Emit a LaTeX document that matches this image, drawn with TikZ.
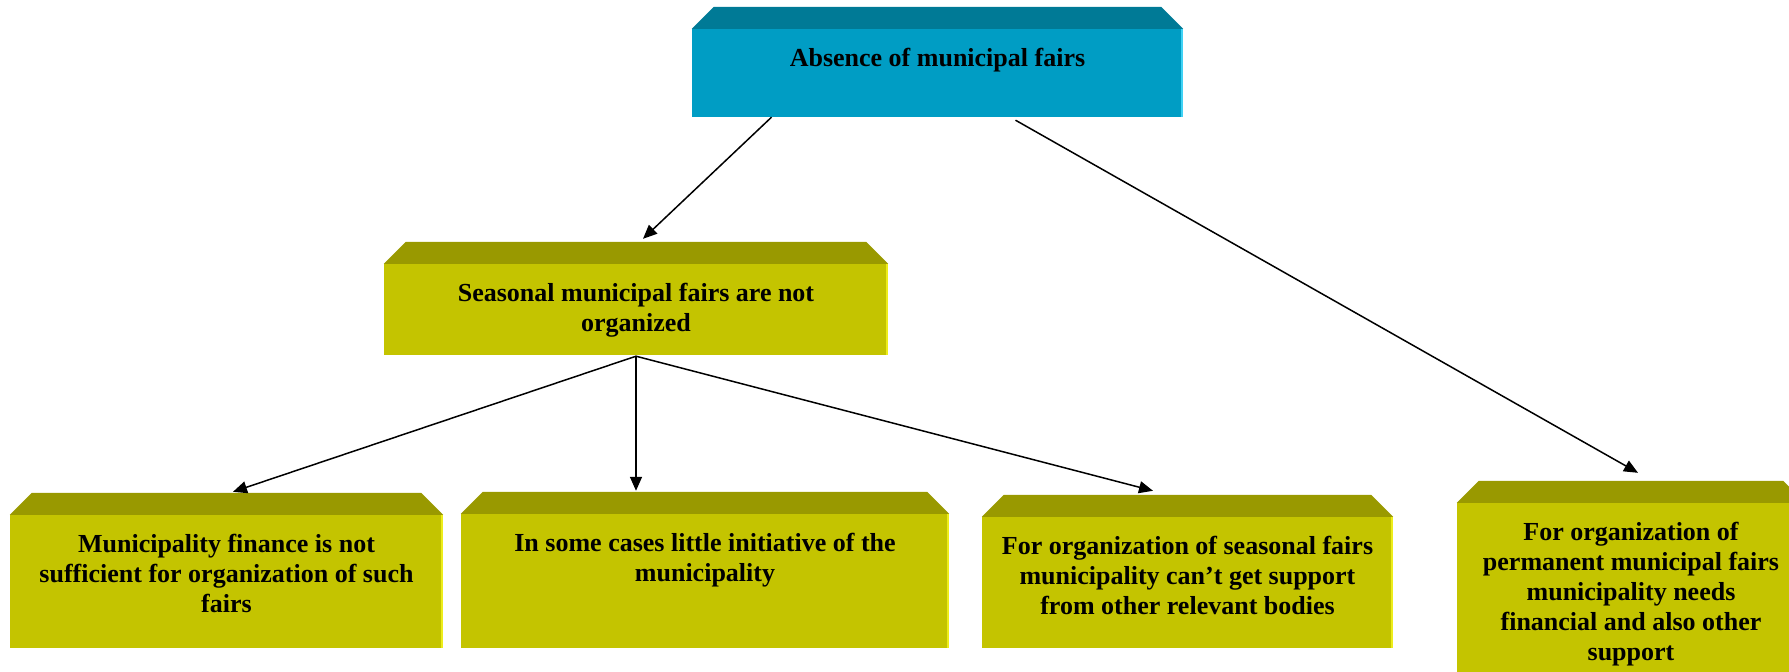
\documentclass[tikz,border=0pt]{standalone}
\usepackage{fontspec}
\setmainfont{Liberation Serif}
\usepackage{tikz}
\usetikzlibrary{arrows.meta}
\definecolor{tealfront}{HTML}{009DC4}
\definecolor{tealtop}{HTML}{007A96}
\definecolor{tealedge}{HTML}{3FD2F5}
\definecolor{olivefront}{HTML}{C4C400}
\definecolor{olivetop}{HTML}{999900}
\definecolor{oliveedge}{HTML}{EDED1A}

\begin{document}
\begin{tikzpicture}[x=1pt,y=-1pt,
		box/.style={rectangle,inner sep=0pt,fill=olivefront},
		boxtext/.style={anchor=north,inner sep=0pt,yshift=-19pt,align=center,font=\bfseries\fontsize{26}{30}\selectfont},
		arr/.style={line width=1.5pt,-{Triangle[length=14pt,width=12pt]}}]
	\useasboundingbox (0,0) rectangle (1789,672);
	% front faces
	\node (top) [box,fill=tealfront,minimum width=491pt,minimum height=88pt] at (937.5,73) {};
	\node (sea) [box,minimum width=504pt,minimum height=91pt] at (636,309.5) {};
	\node (fin) [box,minimum width=433pt,minimum height=133pt] at (226.5,581.5) {};
	\node (ini) [box,minimum width=488pt,minimum height=134pt] at (705,581) {};
	\node (sup) [box,minimum width=411pt,minimum height=131pt] at (1187.5,582.5) {};
	\node (perm) [box,minimum width=348pt,minimum height=207pt] at (1631,606.5) {};
	% bevelled tops and light right edges
	\fill[tealtop] (top.north west) -- ++(22,-22) -- ([xshift=-22pt,yshift=22pt]top.north east) -- (top.north east) -- cycle;
	\draw[tealedge,line width=2pt] ([xshift=-1pt]top.north east) -- ([xshift=-1pt]top.south east);
	\foreach \b in {sea,fin,ini,sup,perm}
	{
		\fill[olivetop] (\b.north west) -- ++(22,-22) -- ([xshift=-22pt,yshift=22pt]\b.north east) -- (\b.north east) -- cycle;
		\draw[oliveedge,line width=2pt] ([xshift=-1pt]\b.north east) -- ([xshift=-1pt]\b.south east);
	}
	% texts
	\node (topt) [boxtext] at (top.north) {Absence of municipal fairs};
	\node (seat) [boxtext] at (sea.north) {Seasonal municipal fairs are not\\organized};
	\node (fint) [boxtext] at (fin.north) {Municipality finance is not\\sufficient for organization of such\\fairs};
	\node (init) [boxtext] at (ini.north) {In some cases little initiative of the\\municipality};
	\node (supt) [boxtext] at (sup.north) {For organization of seasonal fairs\\municipality can’t get support\\from other relevant bodies};
	\node (permt) [boxtext] at (perm.north) {For organization of\\permanent municipal fairs\\municipality needs\\financial and also other\\support};
	% arrows
	\draw[arr] ([xshift=-166pt]top.south) -- ([xshift=7pt,yshift=25pt]sea.north);
	\draw[arr] ([xshift=78pt,yshift=-3pt]top.south) -- ([xshift=7pt,yshift=30pt]perm.north);
	\draw[arr] ([yshift=-1pt]sea.south) -- ([xshift=6.5pt,yshift=23pt]fin.north);
	\draw[arr] ([yshift=-1pt]sea.south) -- ([yshift=23pt]ini.north -| sea.south);
	\draw[arr] ([yshift=-1pt]sea.south) -- ([xshift=-34.5pt,yshift=26pt]sup.north);
\end{tikzpicture}
\end{document}
